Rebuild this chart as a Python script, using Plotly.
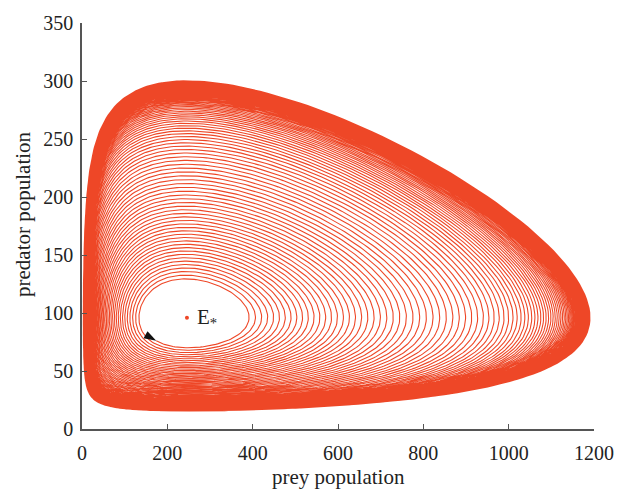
import math
import numpy as np
import plotly.graph_objects as go

# ---- values ----
equilibrium = [246.0, 96.0]          # E* (prey, predator)
start_point = [174.0, 76.0]          # where the orbit starts (arrow)
x_ticks = [0, 200, 400, 600, 800, 1000, 1200]
y_ticks = [0, 50, 100, 150, 200, 250, 300, 350]
prey_exponent = 1.3                  # shape of the prey response
rate_ratio = 3.68                    # predator/prey rate ratio (from orbit extents)
step_inner = 0.032                   # growth of orbit level per turn, inner orbit
step_slope = 0.030                   # growth increase per unit level
cycle_level = 3.70                   # level of the attracting cycle
cycle_pull = 0.050                   # fraction of the gap closed per turn near the cycle
end_level = 3.63                     # level of the outermost drawn orbit

# ---- trajectory (generalised Lotka-Volterra flow spiralling out) ----
alpha = 1.0
gamma = alpha / rate_ratio
s = prey_exponent
xs, ys = equilibrium


def level(p, q):
    u = math.exp(p)
    v = math.exp(q)
    return (u ** s - 1) / s - p + rate_ratio * (v - q - 1)


h_start = level(math.log(start_point[0] / xs), math.log(start_point[1] / ys))


def rhs(p, q):
    us = math.exp(s * p)
    v = math.exp(q)
    dp = alpha * (1 - v)
    dq = gamma * (us - 1)
    H = (us - 1) / s - p + rate_ratio * (v - q - 1)
    gp = us - 1
    gq = rate_ratio * (v - 1)
    g2 = gp * gp + gq * gq + 1e-12
    om = (p * dq - q * dp) / (p * p + q * q + 1e-12)
    base = step_inner + step_slope * (H - h_start)
    conv = cycle_pull * max(cycle_level - H, 1e-6)
    D = (base ** -4 + conv ** -4) ** -0.25
    k = D / (2 * math.pi) * om
    return dp + k * gp / g2, dq + k * gq / g2


p = math.log(start_point[0] / xs)
q = math.log(start_point[1] / ys)
dt = 0.02
P = [p]
Q = [q]
t = 0.0
while t < 12000:
    k1 = rhs(p, q)
    k2 = rhs(p + 0.5 * dt * k1[0], q + 0.5 * dt * k1[1])
    k3 = rhs(p + 0.5 * dt * k2[0], q + 0.5 * dt * k2[1])
    k4 = rhs(p + dt * k3[0], q + dt * k3[1])
    p += dt / 6 * (k1[0] + 2 * k2[0] + 2 * k3[0] + k4[0])
    q += dt / 6 * (k1[1] + 2 * k2[1] + 2 * k3[1] + k4[1])
    t += dt
    P.append(p)
    Q.append(q)
    if level(p, q) >= end_level:
        break

Xa = xs * np.exp(np.array(P))
Ya = ys * np.exp(np.array(Q))
# thin the points to roughly 1.5 px steps
keep = [0]
lx, ly = Xa[0], Ya[0]
for i in range(1, len(Xa)):
    if abs(Xa[i] - lx) * 0.436 > 1.5 or abs(Ya[i] - ly) * 1.178 > 1.5:
        keep.append(i)
        lx, ly = Xa[i], Ya[i]
keep.append(len(Xa) - 1)
X = Xa[keep]
Y = Ya[keep]

# direction of the flow at the start point (for the arrow head)
d0 = rhs(P[0], Q[0])
vx = start_point[0] * d0[0] * 0.436
vy = start_point[1] * d0[1] * 1.178
arrow_angle = math.degrees(math.atan2(vx, vy))

red = "#EE4727"
ink = "#222222"
serif = "Liberation Serif"

fig = go.Figure()
fig.add_trace(go.Scatter(x=X, y=Y, mode="lines",
                         line=dict(color=red, width=1.1), hoverinfo="skip"))
fig.add_trace(go.Scatter(x=[equilibrium[0]], y=[equilibrium[1]], mode="markers",
                         marker=dict(color=red, size=4)))
fig.add_trace(go.Scatter(x=[start_point[0]], y=[start_point[1]], mode="markers",
                         marker=dict(symbol="arrow", size=13, color="#111",
                                     angle=arrow_angle, line=dict(width=0))))

fig.add_annotation(x=equilibrium[0], y=equilibrium[1],
                   text="E<sub><span style='color:#222222'>*</span></sub>",
                   showarrow=False, xanchor="left", yanchor="middle", xshift=8,
                   font=dict(family=serif, size=21, color=ink))

fig.add_annotation(x=0.5, y=-0.118, xref="paper", yref="paper", text="prey population",
                   showarrow=False, xanchor="center", yanchor="middle",
                   font=dict(family=serif, size=21, color=ink))
fig.add_annotation(x=-0.115, y=0.53, xref="paper", yref="paper",
                   text="predator population", textangle=-90,
                   showarrow=False, xanchor="center", yanchor="middle",
                   font=dict(family=serif, size=21, color=ink))

axis_common = dict(showline=True, linecolor="#555", linewidth=1.5, ticks="inside",
                   ticklen=5, tickwidth=1.2, tickcolor="#555", showgrid=False,
                   zeroline=False, mirror=False,
                   tickfont=dict(family=serif, size=20, color=ink))
fig.update_xaxes(range=[0, 1200], tickvals=x_ticks, ticklabelstandoff=5, **axis_common)
fig.update_yaxes(range=[0, 350], tickvals=y_ticks, ticklabelstandoff=3, **axis_common)

fig.update_layout(width=626, height=491, showlegend=False,
                  plot_bgcolor="white", paper_bgcolor="white",
                  margin=dict(l=82, r=21, t=17, b=62))
fig.write_html("out.html")
